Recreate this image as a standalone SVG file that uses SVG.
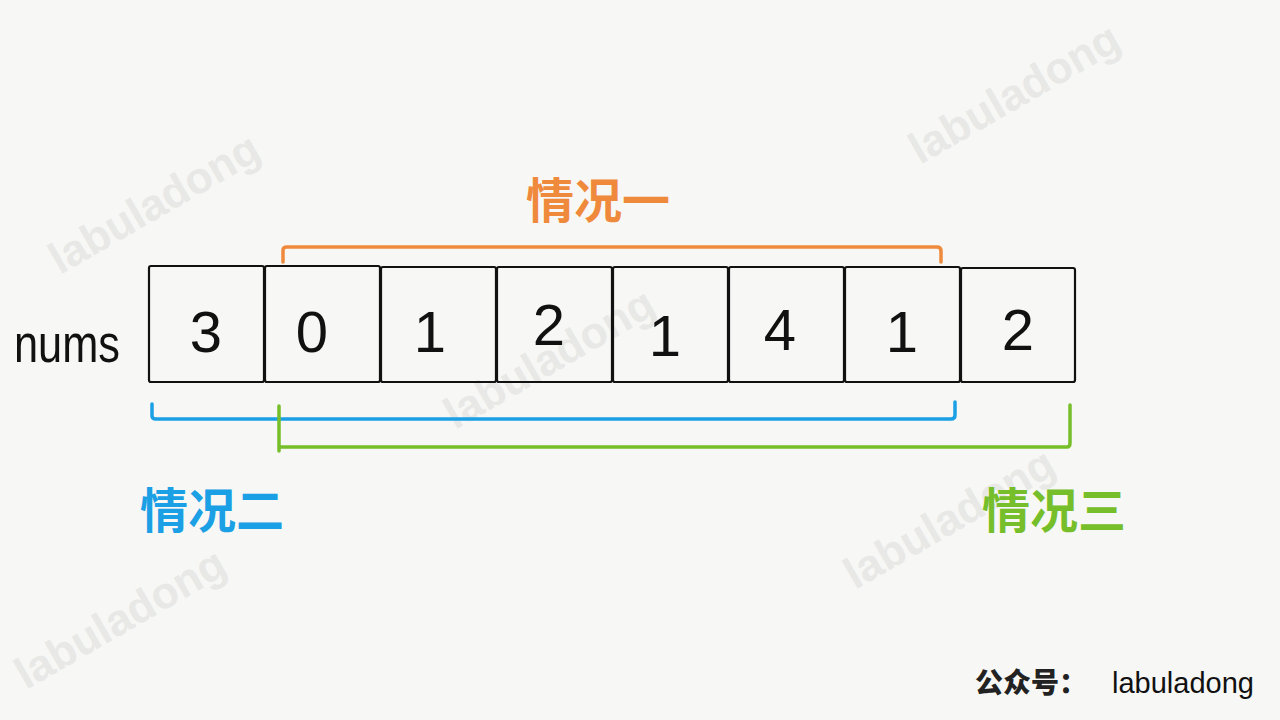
<svg xmlns="http://www.w3.org/2000/svg" width="1280" height="720" viewBox="0 0 1280 720">
<style>
.cell{fill:none;stroke:#111;stroke-width:2.2}
.num{font-family:"Liberation Sans",sans-serif;font-size:58px;fill:#111;text-anchor:middle}
.wm{font-family:"Liberation Sans",sans-serif;font-size:44px;font-weight:bold;fill:#e8e8e6}
.lab{font-family:"Noto Sans CJK SC",sans-serif;font-size:48px;font-weight:bold}
.br{fill:none;stroke-width:3.5;stroke-linecap:round;stroke-linejoin:round}
</style>
<rect width="1280" height="720" fill="#f7f7f5"/>
<g id="watermarks">
<text class="wm" transform="translate(60,275) rotate(-30)">labuladong</text>
<text class="wm" transform="translate(920,165) rotate(-30)">labuladong</text>
<text class="wm" transform="translate(455,430) rotate(-30)">labuladong</text>
<text class="wm" transform="translate(855,590) rotate(-30)">labuladong</text>
<text class="wm" transform="translate(26,690) rotate(-30)">labuladong</text>
</g>
<g id="nums-label"><text x="14" y="362" font-family="Liberation Sans,sans-serif" font-size="54" fill="#111" textLength="106" lengthAdjust="spacingAndGlyphs">nums</text></g>
<g id="array">
<g id="c0"><rect class="cell" x="149" y="266" width="115" height="116" rx="2"/><text class="num" x="206" y="352">3</text></g>
<g id="c1"><rect class="cell" x="265" y="266" width="115" height="116" rx="2"/><text class="num" x="312" y="352">0</text></g>
<g id="c2"><rect class="cell" x="381" y="267" width="115" height="115" rx="2"/><text class="num" x="430" y="352">1</text></g>
<g id="c3"><rect class="cell" x="497" y="267" width="115" height="115" rx="2"/><text class="num" x="549" y="345">2</text></g>
<g id="c4"><rect class="cell" x="613" y="267" width="115" height="115" rx="2"/><text class="num" x="665" y="356">1</text></g>
<g id="c5"><rect class="cell" x="729" y="267" width="115" height="115" rx="2"/><text class="num" x="780" y="350">4</text></g>
<g id="c6"><rect class="cell" x="845" y="267" width="115" height="115" rx="2"/><text class="num" x="902" y="352">1</text></g>
<g id="c7"><rect class="cell" x="961" y="268" width="114" height="114" rx="2"/><text class="num" x="1018" y="350">2</text></g>
</g>
<g id="connectors">
<path class="br" stroke="#ef8a3c" d="M283,262 V250 Q283,247 287,247 H937 Q941,247 941,251 V262"/>
<path class="br" stroke="#1ba0e6" d="M152,404 V416 Q152,419 156,419 H951 Q955,419 955,415 V402"/>
<path class="br" stroke="#76be2a" stroke-width="4" d="M279,406 V451 M279,447 H1067 Q1070,447 1070,443 V405"/>
</g>
<g id="case1"><text class="lab" x="598" y="218" fill="#ef8a3c" text-anchor="middle">情况一</text></g>
<g id="case2"><text class="lab" x="212" y="528" fill="#1ba0e6" text-anchor="middle">情况二</text></g>
<g id="case3"><text class="lab" x="1054" y="528" fill="#76be2a" text-anchor="middle">情况三</text></g>
<g id="footer">
<text x="975" y="693" font-family="Noto Sans CJK SC,sans-serif" font-size="28" font-weight="900" fill="#222">公众号：</text>
<text x="1112" y="693" font-family="Liberation Sans,sans-serif" font-size="29" fill="#111">labuladong</text>
</g>
</svg>
